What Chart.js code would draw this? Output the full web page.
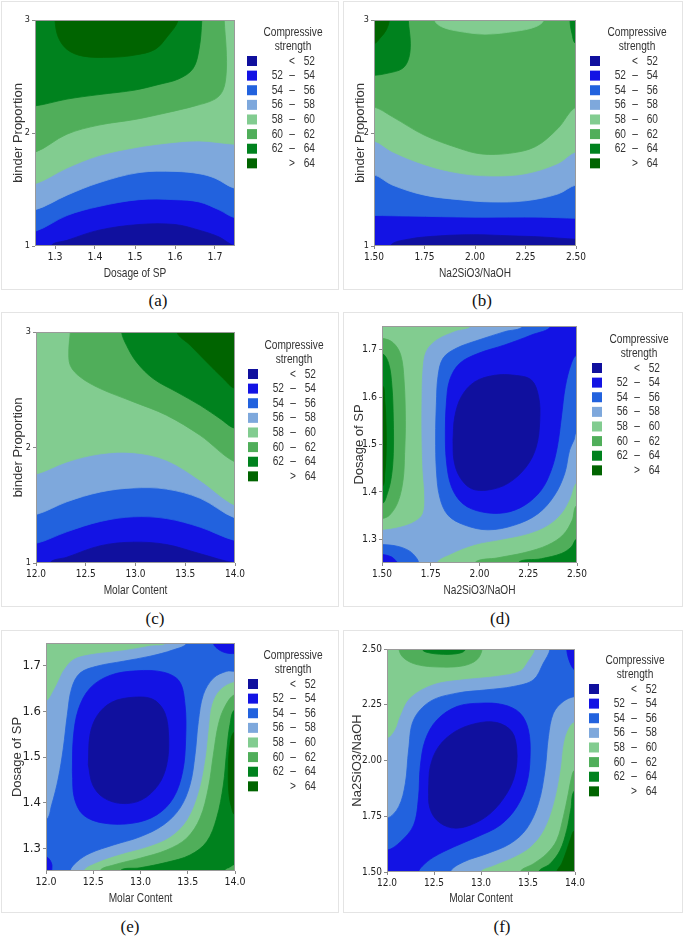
<!DOCTYPE html>
<html>
<head>
<meta charset="utf-8">
<script src="https://cdn.jsdelivr.net/npm/chart.js@4.4.1/dist/chart.umd.min.js"></script>
<style>
  body { margin: 0; background: #fff; width: 685px; height: 936px; position: relative; overflow: hidden; }
  canvas { position: absolute; }
  .frame { position: absolute; border: 1px solid #e4e4e4; box-sizing: border-box; }
  .cap { position: absolute; font-family: "Liberation Serif", "Times New Roman", serif; font-size: 17px; color: #111; transform: translate(-50%, -50%); }
</style>
</head>
<body>
<script>
// contour bands of compressive strength
const bandEdges = [52, 54, 56, 58, 60, 62, 64];
const bandColors = ['#10109e', '#1313e4', '#2262de', '#7ea8dc', '#82cc90', '#50ae5a', '#00821e', '#006400'];

// tick values / labels
const binderTicks = [1, 2, 3];
const binderLabels = ['1', '2', '3'];
const spTicks = [1.3, 1.4, 1.5, 1.6, 1.7];
const spLabels = ['1.3', '1.4', '1.5', '1.6', '1.7'];
const ratioTicks = [1.5, 1.75, 2.0, 2.25, 2.5];
const ratioLabels = ['1.50', '1.75', '2.00', '2.25', '2.50'];
const molarTicks = [12, 12.5, 13, 13.5, 14];
const molarLabels = ['12.0', '12.5', '13.0', '13.5', '14.0'];

// (a) contour lines, [x, y]
const a52 = [[1.29,1.0],[1.33,1.05],[1.41,1.14],[1.51,1.19],[1.60,1.19],[1.66,1.14],[1.71,1.08],[1.75,1.0]];
const a54 = [[1.25,1.13],[1.33,1.27],[1.41,1.35],[1.51,1.41],[1.60,1.41],[1.66,1.39],[1.71,1.32],[1.75,1.25]];
const a56 = [[1.25,1.32],[1.33,1.45],[1.41,1.56],[1.51,1.65],[1.60,1.66],[1.66,1.64],[1.70,1.60],[1.75,1.51]];
const a58 = [[1.25,1.55],[1.33,1.69],[1.41,1.80],[1.50,1.87],[1.58,1.91],[1.66,1.93],[1.75,1.90]];
const a60 = [[1.25,1.83],[1.33,1.99],[1.41,2.07],[1.50,2.12],[1.58,2.18],[1.65,2.24],[1.70,2.30],[1.72,2.38],[1.728,2.53],[1.728,2.74],[1.723,3.0]];
const a62 = [[1.25,2.24],[1.33,2.30],[1.41,2.34],[1.50,2.38],[1.56,2.43],[1.61,2.48],[1.645,2.57],[1.66,2.74],[1.667,3.0]];
const a64 = [[1.30,3.0],[1.308,2.85],[1.33,2.74],[1.37,2.68],[1.44,2.67],[1.50,2.69],[1.55,2.74],[1.58,2.85],[1.608,3.0]];

// (b)
const b52 = [[1.58,1.0],[1.67,1.06],[1.83,1.09],[2.0,1.10],[2.17,1.09],[2.33,1.08],[2.5,1.06]];
const b54 = [[1.5,1.27],[1.67,1.265],[2.0,1.255],[2.33,1.255],[2.5,1.245]];
const b56 = [[1.5,1.63],[1.59,1.54],[1.75,1.45],[1.92,1.41],[2.08,1.39],[2.25,1.40],[2.41,1.46],[2.5,1.54]];
const b58 = [[1.5,1.93],[1.59,1.835],[1.75,1.72],[1.92,1.645],[2.08,1.62],[2.25,1.64],[2.41,1.73],[2.5,1.835]];
const b60 = [[1.5,2.23],[1.59,2.145],[1.75,1.98],[1.92,1.865],[2.03,1.815],[2.17,1.82],[2.30,1.88],[2.41,2.04],[2.5,2.23]];
const b60dip = [[1.80,3.0],[1.835,2.94],[1.92,2.90],[2.05,2.875],[2.20,2.90],[2.30,2.94],[2.34,3.0]];
const b62left = [[1.5,2.51],[1.57,2.53],[1.64,2.57],[1.67,2.65],[1.68,2.79],[1.67,3.0]];
const b64left = [[1.5,2.79],[1.53,2.84],[1.56,2.91],[1.576,3.0]];
const b62right = [[2.47,3.0],[2.48,2.88],[2.5,2.79]];

// (c)
const c52 = [[12.14,1.0],[12.31,1.05],[12.65,1.15],[12.98,1.18],[13.31,1.16],[13.65,1.08],[14.0,1.0]];
const c54 = [[12.0,1.17],[12.31,1.27],[12.65,1.36],[12.98,1.40],[13.31,1.385],[13.65,1.31],[14.0,1.195]];
const c56 = [[12.0,1.42],[12.31,1.53],[12.65,1.615],[12.98,1.65],[13.31,1.64],[13.65,1.56],[14.0,1.39]];
const c58 = [[12.0,1.77],[12.31,1.875],[12.65,1.945],[12.98,1.955],[13.31,1.89],[13.65,1.715],[14.0,1.50]];
const c60 = [[12.345,3.0],[12.33,2.855],[12.345,2.71],[12.445,2.61],[12.645,2.51],[12.98,2.395],[13.31,2.28],[13.65,2.105],[14.0,1.875]];
const c62 = [[12.86,3.0],[12.91,2.885],[13.01,2.74],[13.18,2.595],[13.415,2.48],[13.65,2.365],[13.85,2.25],[14.0,2.165]];
const c64 = [[13.415,3.0],[13.55,2.885],[13.715,2.74],[13.885,2.595],[14.0,2.51]];

// (d)
const d60left = [[1.5,1.724],[1.556,1.715],[1.596,1.689],[1.613,1.636],[1.620,1.551],[1.616,1.481],[1.608,1.425],[1.582,1.379],[1.539,1.351],[1.5,1.344]];
const d62left = [[1.5,1.692],[1.534,1.671],[1.551,1.622],[1.558,1.551],[1.558,1.481],[1.548,1.432],[1.527,1.396],[1.5,1.375]];
const d64left = [[1.5,1.625],[1.514,1.594],[1.521,1.537],[1.521,1.481],[1.514,1.439],[1.5,1.411]];
const d60corner = [[1.975,1.25],[2.095,1.261],[2.232,1.272],[2.351,1.288],[2.430,1.310],[2.475,1.340],[2.5,1.372]];
const d62corner = [[2.197,1.25],[2.317,1.259],[2.420,1.270],[2.471,1.284],[2.5,1.301]];
const d58upper = [[1.958,1.75],[1.873,1.738],[1.779,1.720],[1.727,1.696],[1.710,1.657],[1.705,1.587],[1.705,1.516],[1.710,1.446],[1.719,1.389],[1.710,1.354],[1.668,1.337],[1.599,1.326],[1.5,1.319]];
const d58lower = [[1.779,1.25],[1.856,1.270],[1.975,1.289],[2.112,1.300],[2.249,1.312],[2.351,1.330],[2.420,1.355],[2.462,1.385],[2.5,1.421]];
const d56ring = [[2.223,1.75],[2.129,1.738],[1.992,1.720],[1.881,1.703],[1.813,1.682],[1.787,1.643],[1.779,1.587],[1.775,1.516],[1.779,1.446],[1.796,1.389],[1.838,1.351],[1.924,1.330],[2.044,1.320],[2.180,1.330],[2.300,1.354],[2.385,1.393],[2.437,1.439],[2.462,1.488],[2.485,1.510],[2.5,1.527]];
const d56corner = [[1.5,1.289],[1.582,1.285],[1.642,1.275],[1.676,1.261],[1.688,1.25]];
const d54ring = [[2.368,1.75],[2.266,1.731],[2.129,1.710],[1.992,1.692],[1.898,1.671],[1.847,1.636],[1.830,1.587],[1.825,1.530],[1.830,1.467],[1.856,1.411],[1.915,1.375],[2.009,1.358],[2.129,1.356],[2.232,1.372],[2.317,1.404],[2.368,1.446],[2.399,1.495],[2.420,1.558],[2.440,1.622],[2.471,1.671],[2.5,1.689]];
const d54corner = [[1.5,1.268],[1.548,1.263],[1.568,1.256],[1.579,1.25]];
const d52 = [[1.864,1.509],[1.873,1.558],[1.907,1.601],[1.975,1.632],[2.078,1.646],[2.180,1.646],[2.266,1.636],[2.303,1.601],[2.309,1.551],[2.291,1.495],[2.240,1.453],[2.146,1.418],[2.044,1.404],[1.958,1.407],[1.898,1.432],[1.869,1.467],[1.864,1.509]];

// (e)
const e60 = [[12.571,1.25],[12.713,1.263],[12.995,1.278],[13.277,1.296],[13.489,1.322],[13.630,1.366],[13.718,1.432],[13.771,1.505],[13.824,1.571],[13.894,1.611],[14.0,1.637]];
const e62 = [[12.783,1.25],[12.995,1.257],[13.277,1.269],[13.524,1.285],[13.700,1.314],[13.806,1.366],[13.877,1.439],[13.912,1.512],[13.947,1.571],[14.0,1.604]];
const e60corner = [[13.894,1.25],[13.947,1.257],[14.0,1.263]];
const e64 = [[14.0,1.556],[13.947,1.527],[13.929,1.468],[13.937,1.417],[13.965,1.388],[14.0,1.373]];
const e58upper = [[13.277,1.75],[13.101,1.743],[12.818,1.733],[12.466,1.724],[12.289,1.713],[12.183,1.688],[12.148,1.673],[12.078,1.644],[12.0,1.622]];
const e58lower = [[12.395,1.25],[12.536,1.269],[12.783,1.287],[13.065,1.303],[13.312,1.325],[13.489,1.362],[13.612,1.424],[13.683,1.497],[13.718,1.563],[13.753,1.615],[13.841,1.648],[14.0,1.666]];
const e56upper = [[13.489,1.75],[13.347,1.735],[13.101,1.721],[12.818,1.710],[12.536,1.699],[12.360,1.684],[12.272,1.651],[12.226,1.593],[12.183,1.519],[12.131,1.454],[12.060,1.395],[12.0,1.362]];
const e56lower = [[12.254,1.25],[12.325,1.270],[12.466,1.289],[12.713,1.307],[12.995,1.325],[13.242,1.351],[13.418,1.388],[13.524,1.439],[13.577,1.505],[13.612,1.578],[13.665,1.637],[13.771,1.673],[13.912,1.688],[14.0,1.688]];
const e54ring = [[12.279,1.468],[12.289,1.541],[12.342,1.604],[12.466,1.651],[12.677,1.679],[12.959,1.689],[13.242,1.686],[13.411,1.666],[13.471,1.615],[13.478,1.541],[13.446,1.468],[13.347,1.410],[13.171,1.373],[12.924,1.355],[12.607,1.355],[12.395,1.373],[12.300,1.410],[12.279,1.468]];
const e54corner = [[13.771,1.75],[13.806,1.739],[13.877,1.730],[13.947,1.727],[14.0,1.727]];
const e54low = [[12.0,1.281],[12.042,1.274],[12.063,1.263],[12.060,1.25]];
const e52 = [[12.448,1.483],[12.466,1.549],[12.543,1.591],[12.695,1.620],[12.924,1.631],[13.136,1.626],[13.259,1.596],[13.298,1.541],[13.277,1.483],[13.189,1.439],[13.012,1.406],[12.801,1.398],[12.607,1.411],[12.494,1.439],[12.448,1.483]];

// (f)
const f60top = [[12.127,2.5],[12.177,2.460],[12.319,2.430],[12.566,2.419],[12.814,2.425],[12.956,2.452],[13.012,2.5]];
const f62top = [[12.375,2.5],[12.425,2.485],[12.602,2.476],[12.779,2.482],[12.835,2.5]];
const f60corner = [[13.416,1.5],[13.558,1.537],[13.699,1.582],[13.805,1.642],[13.876,1.747],[13.929,1.852],[13.965,1.927],[14.0,1.957]];
const f62corner = [[13.611,1.5],[13.735,1.537],[13.841,1.597],[13.912,1.687],[13.954,1.777],[14.0,1.867]];
const f64corner = [[13.805,1.5],[13.858,1.537],[13.912,1.597],[13.954,1.650],[14.0,1.687]];
const f58upper = [[13.579,2.5],[13.504,2.445],[13.416,2.400],[13.168,2.377],[12.814,2.362],[12.496,2.340],[12.248,2.280],[12.142,2.197],[12.088,2.137],[12.0,2.098]];
const f58lower = [[12.991,1.5],[13.133,1.530],[13.345,1.567],[13.522,1.612],[13.664,1.687],[13.770,1.807],[13.841,1.957],[13.876,2.077],[13.929,2.145],[14.0,2.175]];
const f56upper = [[13.735,2.5],[13.664,2.437],[13.558,2.362],[13.345,2.332],[13.062,2.317],[12.743,2.302],[12.460,2.265],[12.283,2.182],[12.230,2.047],[12.195,1.897],[12.124,1.792],[12.0,1.740]];
const f56lower = [[12.673,1.5],[12.814,1.545],[13.062,1.582],[13.310,1.627],[13.487,1.695],[13.611,1.807],[13.681,1.957],[13.717,2.107],[13.770,2.212],[13.876,2.265],[14.0,2.287]];
const f54 = [[12.0,1.597],[12.142,1.635],[12.283,1.710],[12.336,1.837],[12.354,1.972],[12.407,2.092],[12.531,2.182],[12.743,2.242],[12.991,2.257],[13.239,2.250],[13.416,2.212],[13.504,2.137],[13.522,2.017],[13.487,1.897],[13.381,1.792],[13.204,1.710],[12.956,1.657],[12.708,1.612],[12.496,1.567],[12.372,1.525],[12.336,1.5]];
const f54corner = [[13.912,2.5],[13.929,2.460],[13.965,2.422],[14.0,2.407]];
const f52 = [[12.442,1.867],[12.460,1.972],[12.549,2.062],[12.726,2.130],[12.956,2.167],[13.168,2.170],[13.327,2.130],[13.381,2.047],[13.363,1.942],[13.274,1.852],[13.097,1.762],[12.885,1.710],[12.690,1.698],[12.531,1.732],[12.453,1.792],[12.442,1.867]];

// painting order: [band, curve / corner, ...]
const panels = [
  { tag: '(a)', xTitle: 'Dosage of SP', yTitle: 'binder Proportion', xr: [1.25, 1.75], yr: [1, 3],
    xTicks: spTicks, xLabels: spLabels, yTicks: binderTicks, yLabels: binderLabels, base: 1,
    regions: [[0, a52, 'BR'], [2, a54, 'TR', 'TL'], [3, a56, 'TR', 'TL'], [4, a58, 'TR', 'TL'], [5, a60, 'TL'], [6, a62, 'TL'], [7, a64]] },
  { tag: '(b)', xTitle: 'Na2SiO3/NaOH', yTitle: 'binder Proportion', xr: [1.5, 2.5], yr: [1, 3],
    xTicks: ratioTicks, xLabels: ratioLabels, yTicks: binderTicks, yLabels: binderLabels, base: 1,
    regions: [[0, b52, 'BR'], [2, b54, 'TR', 'TL'], [3, b56, 'TR', 'TL'], [4, b58, 'TR', 'TL'], [5, b60, 'TR', 'TL'], [4, b60dip], [6, b62left, 'TL'], [7, b64left, 'TL'], [6, b62right, 'TR']] },
  { tag: '(c)', xTitle: 'Molar Content', yTitle: 'binder Proportion', xr: [12, 14], yr: [1, 3],
    xTicks: molarTicks, xLabels: molarLabels, yTicks: binderTicks, yLabels: binderLabels, base: 1,
    regions: [[0, c52, 'BR'], [2, c54, 'TR', 'TL'], [3, c56, 'TR', 'TL'], [4, c58, 'TR', 'TL'], [5, c60, 'TR'], [6, c62, 'TR'], [7, c64, 'TR']] },
  { tag: '(d)', xTitle: 'Na2SiO3/NaOH', yTitle: 'Dosage of SP', xr: [1.5, 2.5], yr: [1.25, 1.75],
    xTicks: ratioTicks, xLabels: ratioLabels, yTicks: spTicks, yLabels: spLabels, base: 4,
    regions: [[5, d60left], [6, d62left], [7, d64left], [5, d60corner, 'BR'], [6, d62corner, 'BR'], [3, d58upper, 'BL', d58lower, 'TR'],
              [2, d56ring, 'TR'], [2, d56corner, 'BL'], [1, d54ring, 'TR'], [1, d54corner, 'BL'], [0, d52]] },
  { tag: '(e)', xTitle: 'Molar Content', yTitle: 'Dosage of SP', xr: [12, 14], yr: [1.25, 1.75],
    xTicks: molarTicks, xLabels: molarLabels, yTicks: spTicks, yLabels: spLabels, base: 4,
    regions: [[5, e60, 'BR'], [6, e62, 'BR'], [5, e60corner, 'BR'], [7, e64], [3, e58upper, 'BL', e58lower, 'TR'], [2, e56upper, 'BL', e56lower, 'TR'],
              [1, e54ring], [1, e54corner, 'TR'], [1, e54low, 'BL'], [0, e52]] },
  { tag: '(f)', xTitle: 'Molar Content', yTitle: 'Na2SiO3/NaOH', xr: [12, 14], yr: [1.5, 2.5],
    xTicks: molarTicks, xLabels: molarLabels, yTicks: ratioTicks, yLabels: ratioLabels, base: 4,
    regions: [[5, f60top], [6, f62top], [5, f60corner, 'BR'], [6, f62corner, 'BR'], [7, f64corner, 'BR'], [3, f58upper, 'BL', f58lower, 'TR'],
              [2, f56upper, 'BL', f56lower, 'TR'], [1, f54, 'BL'], [1, f54corner, 'TR'], [0, f52]] }
];

// page layout (pixels)
const layouts = [
  { box: [0, 0, 340, 292],   plot: [35, 20, 235, 246],   yTitleX: 18,  xTitleY: 273, leg: [247, 61, 293],  xTick: 10.5, yTick: 9,    frame: [1, 1, 338, 289],   cap: [158, 301] },
  { box: [341, 0, 344, 292], plot: [374, 20, 576, 246],  yTitleX: 360, xTitleY: 273, leg: [590, 61, 637],  xTick: 10,   yTick: 9,    frame: [343, 1, 340, 289], cap: [482, 301] },
  { box: [0, 308, 340, 300], plot: [36, 332, 235, 563],  yTitleX: 18,  xTitleY: 590, leg: [248, 374, 294], xTick: 10,   yTick: 9,    frame: [1, 312, 338, 295], cap: [155, 619] },
  { box: [341, 308, 344, 300], plot: [382, 326, 577, 563], yTitleX: 359, xTitleY: 590, leg: [592, 368, 639], xTick: 10, yTick: 10.5, frame: [343, 312, 340, 295], cap: [500, 619] },
  { box: [0, 625, 340, 290], plot: [46, 643, 235, 871],  yTitleX: 17,  xTitleY: 898, leg: [248, 684, 293], xTick: 10.5, yTick: 13,   frame: [1, 630, 338, 283], cap: [130, 927] },
  { box: [341, 625, 344, 290], plot: [387, 649, 575, 872], yTitleX: 357, xTitleY: 898, leg: [589, 689, 635], xTick: 10, yTick: 10,   frame: [343, 630, 340, 283], cap: [502, 927] }
];

const NARROW = '"Liberation Sans Narrow", "DejaVu Sans Condensed", "Roboto Condensed", Roboto, sans-serif';
const REGULAR = '"Liberation Sans", Arial, sans-serif';
const TITLE_SIZE = 13;
const SQUEEZE = 0.78; // the source figure is squashed horizontally

// closes a contour into a fill polygon through corners outside the axes
function buildPolygon(parts, xr, yr) {
  const px = (xr[1] - xr[0]) * 0.1, py = (yr[1] - yr[0]) * 0.1;
  const near = (a, b) => Math.abs(a - b) < 1e-6;
  const ext = ([x, y]) => {
    if (near(x, xr[0])) return [x - px, y];
    if (near(x, xr[1])) return [x + px, y];
    if (near(y, yr[0])) return [x, y - py];
    if (near(y, yr[1])) return [x, y + py];
    return null;
  };
  const corner = { TL: [xr[0] - px, yr[1] + py], TR: [xr[1] + px, yr[1] + py], BL: [xr[0] - px, yr[0] - py], BR: [xr[1] + px, yr[0] - py] };
  const out = [];
  parts.forEach(part => {
    if (typeof part === 'string') { out.push(corner[part]); return; }
    const a = ext(part[0]), b = ext(part[part.length - 1]);
    if (a) out.push(a);
    out.push(...part);
    if (b) out.push(b);
  });
  return out.map(([x, y]) => ({ x, y }));
}

function squeezedText(ctx, text, x, y, align) {
  ctx.save();
  ctx.translate(x, y);
  ctx.scale(SQUEEZE, 1);
  ctx.textAlign = align;
  ctx.fillText(text, 0, 0);
  ctx.restore();
}

const bandPlugin = {
  id: 'bandBase',
  beforeDatasetsDraw(chart, args, opts) {
    const { ctx, chartArea: a } = chart;
    ctx.save();
    ctx.fillStyle = bandColors[opts.base];
    ctx.fillRect(a.left, a.top, a.width, a.height);
    ctx.restore();
  },
  afterDatasetsDraw(chart) {
    const { ctx, chartArea: a } = chart;
    ctx.save();
    ctx.strokeStyle = '#9a9a9a';
    ctx.lineWidth = 1;
    ctx.strokeRect(a.left + 0.5, a.top + 0.5, a.width - 1, a.height - 1);
    ctx.restore();
  }
};

const legendPlugin = {
  id: 'bandLegend',
  afterDraw(chart, args, opts) {
    const ctx = chart.ctx;
    const [x0, y0, tx] = opts.pos;
    const ox = chart.canvas.offsetLeft, oy = chart.canvas.offsetTop;
    const x = x0 - ox, y = y0 - oy;
    const a = chart.chartArea;
    ctx.save();
    ctx.font = TITLE_SIZE + 'px ' + REGULAR;
    ctx.fillStyle = '#333';
    ctx.textBaseline = 'middle';
    // x axis title
    squeezedText(ctx, opts.xTitle, (a.left + a.right) / 2, opts.xTitleY - oy, 'center');
    squeezedText(ctx, 'Compressive', tx - ox, y - 28.5, 'center');
    squeezedText(ctx, 'strength', tx - ox, y - 14.5, 'center');
    bandColors.forEach((c, i) => {
      const cy = y + i * 14.62;
      ctx.fillStyle = c;
      ctx.fillRect(x, cy - 5, 10, 10);
      ctx.fillStyle = '#333';
      if (i === 0 || i === bandColors.length - 1) {
        squeezedText(ctx, i === 0 ? '<' : '>', x + 45, cy, 'center');
        squeezedText(ctx, String(i === 0 ? bandEdges[0] : bandEdges[bandEdges.length - 1]), x + 68, cy, 'right');
      } else {
        squeezedText(ctx, String(bandEdges[i - 1]), x + 36, cy, 'right');
        squeezedText(ctx, '–', x + 45, cy, 'center');
        squeezedText(ctx, String(bandEdges[i]), x + 68, cy, 'right');
      }
    });
    ctx.restore();
  }
};

Chart.defaults.animation = false;

panels.forEach((p, k) => {
  const L = layouts[k];
  const [bx, by, bw, bh] = L.box;
  const [pl, pt, pr, pb] = L.plot;

  const frame = document.createElement('div');
  frame.className = 'frame';
  frame.style.left = L.frame[0] + 'px'; frame.style.top = L.frame[1] + 'px';
  frame.style.width = L.frame[2] + 'px'; frame.style.height = L.frame[3] + 'px';
  document.body.appendChild(frame);

  const cap = document.createElement('div');
  cap.className = 'cap';
  cap.textContent = p.tag;
  cap.style.left = L.cap[0] + 'px'; cap.style.top = L.cap[1] + 'px';
  document.body.appendChild(cap);

  const canvas = document.createElement('canvas');
  canvas.width = bw; canvas.height = bh;
  canvas.style.left = bx + 'px'; canvas.style.top = by + 'px';
  document.body.appendChild(canvas);

  const lh = TITLE_SIZE * 1.2;
  const padLeft = L.yTitleX - lh / 2 - bx;
  const yWidth = pl - bx - padLeft;
  const xBottom = L.xTitleY + lh / 2;
  const xHeight = xBottom - pb;

  const datasets = p.regions.map(([band, ...parts], i) => ({
    data: buildPolygon(parts, p.xr, p.yr),
    showLine: true,
    fill: 'shape',
    backgroundColor: bandColors[band],
    borderColor: bandColors[band],
    borderWidth: 0.8,
    pointRadius: 0,
    tension: 0.35,
    order: -i
  }));

  new Chart(canvas, {
    type: 'scatter',
    data: { datasets },
    options: {
      responsive: false,
      devicePixelRatio: 1,
      events: [],
      layout: { padding: { left: padLeft, top: pt - by, right: bx + bw - pr, bottom: by + bh - xBottom } },
      elements: { line: { capBezierPoints: false } },
      plugins: {
        legend: { display: false },
        tooltip: { enabled: false },
        bandBase: { base: p.base },
        bandLegend: { pos: L.leg, xTitle: p.xTitle, xTitleY: L.xTitleY }
      },
      scales: {
        x: {
          type: 'linear', min: p.xr[0], max: p.xr[1],
          afterBuildTicks: s => { s.ticks = p.xTicks.map(v => ({ value: v })); },
          afterFit: s => { s.height = xHeight; },
          ticks: { callback: (v, i) => p.xLabels[i], autoSkip: false, maxRotation: 0, padding: 2, color: '#222', font: { family: NARROW, size: L.xTick } },
          grid: { drawOnChartArea: false, drawTicks: true, tickLength: 3, color: '#8a8a8a' },
          border: { display: false },
          title: { display: false }
        },
        y: {
          type: 'linear', min: p.yr[0], max: p.yr[1],
          afterBuildTicks: s => { s.ticks = p.yTicks.map(v => ({ value: v })); },
          afterFit: s => { s.width = yWidth; },
          ticks: { callback: (v, i) => p.yLabels[i], autoSkip: false, padding: 2, color: '#222', font: { family: NARROW, size: L.yTick } },
          grid: { drawOnChartArea: false, drawTicks: true, tickLength: 3, color: '#8a8a8a' },
          border: { display: false },
          title: { display: true, text: p.yTitle, color: '#333', padding: 0, font: { family: REGULAR, size: TITLE_SIZE } }
        }
      }
    },
    plugins: [bandPlugin, legendPlugin]
  });
});
</script>
</body>
</html>
